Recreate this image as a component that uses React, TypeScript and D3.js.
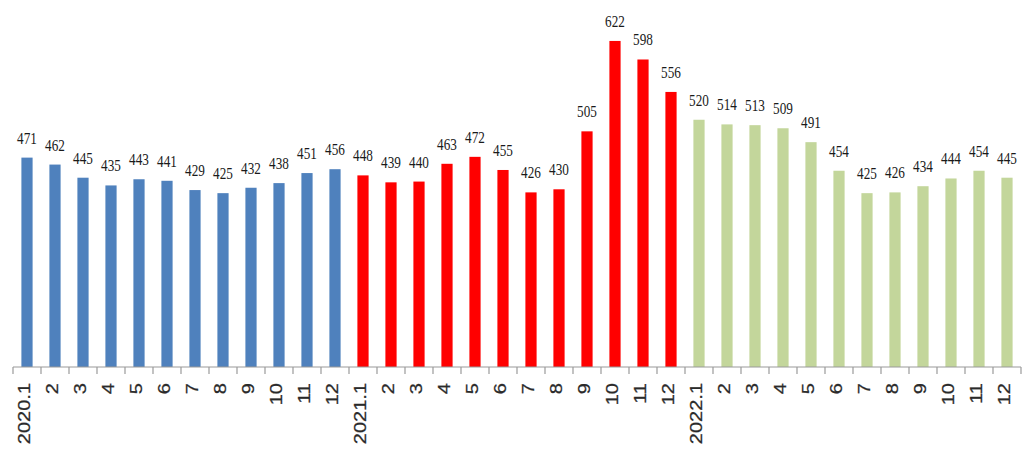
import React from 'react';
import * as d3 from 'd3';

// monthly values, one array per year
const values2020 = [471, 462, 445, 435, 443, 441, 429, 425, 432, 438, 451, 456];
const values2021 = [448, 439, 440, 463, 472, 455, 426, 430, 505, 622, 598, 556];
const values2022 = [520, 514, 513, 509, 491, 454, 425, 426, 434, 444, 454, 445];
const years = ['2020', '2021', '2022'];
const monthLabels = ['1', '2', '3', '4', '5', '6', '7', '8', '9', '10', '11', '12'];
const yearColors = ['#4f81bd', '#ff0000', '#c3d69b'];

const width = 1029;
const height = 451;
const margin = { left: 13, right: 8, top: 0, baseline: 367 };

export default function App() {
  const series = [values2020, values2021, values2022];
  const rows = series.flatMap((vals, yi) =>
    vals.map((v, mi) => ({
      key: `${years[yi]}-${mi}`,
      label: mi === 0 ? `${years[yi]}.${monthLabels[mi]}` : monthLabels[mi],
      value: v,
      color: yearColors[yi],
    }))
  );

  const x = d3
    .scaleBand<string>()
    .domain(rows.map((r) => r.key))
    .range([margin.left, width - margin.right]);

  const y = d3.scaleLinear().domain([200, 675]).range([margin.baseline, margin.top]);

  const barW = x.bandwidth() * 0.4;
  const tickXs = rows.map((r) => x(r.key)!).concat([width - margin.right]);

  return (
    <div style={{ position: 'absolute', left: 0, top: 0 }}>
      <svg width={width} height={height} style={{ display: 'block', background: '#fff' }}>
        {/* bars */}
        {rows.map((r) => {
          const cx = x(r.key)! + x.bandwidth() / 2;
          return (
            <rect
              key={`bar-${r.key}`}
              x={cx - barW / 2}
              y={y(r.value)}
              width={barW}
              height={y(200) - y(r.value)}
              fill={r.color}
            />
          );
        })}

        {/* value labels, slightly condensed like the source */}
        {rows.map((r) => {
          const cx = x(r.key)! + x.bandwidth() / 2;
          return (
            <text
              key={`val-${r.key}`}
              transform={`translate(${cx},${y(r.value) - 14}) scale(0.8,1)`}
              textAnchor="middle"
              fontFamily="'Liberation Serif', 'DejaVu Serif', serif"
              fontSize={16.5}
              fill="#1a1a1a"
            >
              {r.value}
            </text>
          );
        })}

        {/* axis line and ticks */}
        <line
          x1={margin.left}
          x2={width - margin.right}
          y1={margin.baseline}
          y2={margin.baseline}
          stroke="#9a9a9a"
          strokeWidth={1.2}
        />
        {tickXs.map((tx, i) => (
          <line
            key={`tick-${i}`}
            x1={tx}
            x2={tx}
            y1={margin.baseline}
            y2={margin.baseline + 7}
            stroke="#9a9a9a"
            strokeWidth={1.2}
          />
        ))}

        {/* rotated category labels */}
        {rows.map((r) => {
          const cx = x(r.key)! + x.bandwidth() / 2 - 2;
          return (
            <text
              key={`lab-${r.key}`}
              transform={`translate(${cx},${margin.baseline + 16}) rotate(-90) scale(1,0.8)`}
              textAnchor="end"
              dominantBaseline="central"
              fontFamily="'Liberation Sans', Arial, sans-serif"
              fontSize={20}
              fill="#2a2a2a"
              stroke="#2a2a2a"
              strokeWidth={0.3}
            >
              {r.label}
            </text>
          );
        })}
      </svg>
    </div>
  );
}
